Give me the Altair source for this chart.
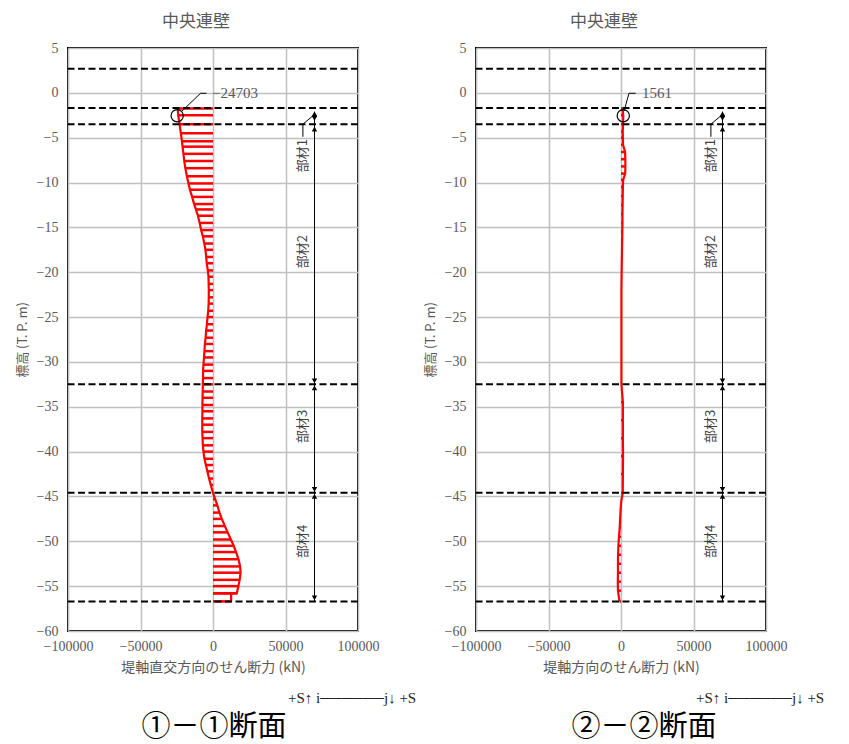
import altair as alt
import pandas as pd

# ---------------- data ----------------
left_elev = [-1.75, -2.5, -3.5, -4.5, -5.4, -6.0, -6.8, -7.6, -8.4, -9.3, -10.1, -10.8, -11.6, -12.4,
             -13.0, -13.7, -14.5, -15.3, -16.0, -16.8, -17.5, -18.3, -19.0, -19.8, -20.5, -21.3, -22.0,
             -22.8, -23.5, -24.3, -25.0, -25.8, -26.5, -27.3, -28.0, -28.8, -29.5, -30.3, -31.0, -31.8,
             -32.5, -33.3, -34.0, -34.8, -35.5, -36.3, -37.0, -37.8, -38.5, -39.3, -40.0, -40.8, -41.5,
             -42.2, -43.0, -43.7, -44.6, -45.3, -46.0, -46.8, -47.5, -48.3, -49.0, -49.8, -50.5, -51.2,
             -52.0, -52.8, -53.5, -54.3, -55.0, -55.8, -55.8, -56.7]
left_shear = [-24300, -24000, -23000, -22200, -21400, -21000, -20400, -19800, -19100, -18000, -16900,
              -15900, -14400, -13000, -11800, -10400, -9200, -8200, -7000, -6000, -5200, -4700, -4300,
              -3600, -3100, -3000, -2900, -2900, -3000, -3300, -3800, -4200, -4700, -5100, -5600, -5900,
              -6200, -6600, -6800, -6900, -7000, -7100, -7200, -7300, -7300, -7400, -7400, -7400, -7200,
              -7000, -6600, -5900, -4900, -3900, -2700, -1600, 0, 1500, 3000, 4500, 6100, 8200, 10100,
              12300, 14300, 15900, 17600, 18700, 19000, 18400, 17500, 16400, 12500, 12500]

right_elev = [-1.75, -2.5, -3.5, -4.3, -5.0, -5.8, -6.6, -7.4, -8.2, -9.0, -9.7, -10.5, -11.5, -12.5,
              -13.5, -14.5, -15.5, -16.5, -17.5, -18.5, -19.5, -20.5, -22.0, -24.0, -26.0, -28.0, -30.0,
              -32.5, -34.5, -36.5, -38.5, -40.5, -42.5, -44.6, -45.5, -46.5, -47.5, -48.5, -49.5, -50.5,
              -51.5, -52.5, -53.5, -54.5, -55.5, -56.7]
right_shear = [1000, 1561, 1400, 1200, 1300, 1400, 2800, 3000, 3000, 2900, 1500, 1300, 1200, 1100, 1000,
               1000, 900, 800, 700, 600, 500, 400, 300, 300, 300, 300, 300, 300, 1300, 1300, 1300, 1400,
               1300, 1200, 200, -300, -600, -900, -1400, -1800, -2000, -2100, -2100, -2200, -2100, -1000]

level_elev = [2.7, -1.7, -3.5, -32.5, -44.6, -56.7]
x_ticks = [-100000, -50000, 0, 50000, 100000]
y_ticks = [5, 0, -5, -10, -15, -20, -25, -30, -35, -40, -45, -50, -55, -60]

member_names = ["部材1", "部材2", "部材3", "部材4"]
member_label_elev = [-7.0, -17.7, -37.2, -50.0]
member_label_x = [62000, 62000, 62000, 62000]

dim_x = [70000, 70000]
dim_elev = [-2.1, -56.7]
arrow_elev = [-2.35, -2.85, -4.05, -32.1, -32.9, -44.2, -45.0, -56.3]
arrow_shape = ["triangle-up", "triangle-down", "triangle-up", "triangle-down",
               "triangle-up", "triangle-down", "triangle-up", "triangle-down"]
m1_leader_x = [62000, 62000, 70000]
m1_leader_elev = [-4.9, -3.5, -2.4]

left_peak = (-24703, -2.55)
right_peak = (1561, -2.55)
left_leader_x = [-21500, -8600, -4500]
right_leader_x = [2100, 5500, 10100]
leader_elev = [-2.05, -0.05, -0.05]
left_label = ("−24703", -700)
right_label = ("1561", 14500)

panel_title = "中央連壁"
left_xtitle = "堤軸直交方向のせん断力 (kN)"
right_xtitle = "堤軸方向のせん断力 (kN)"
ytitle = "標高 (T. P. m)"
sign_text = "+S↑ i──────j↓ +S"
left_section = "①－①断面"
right_section = "②－②断面"

# ---------------- styling ----------------
W, H = 290, 583
GRAY = "#595959"
SERIF = "Liberation Serif, DejaVu Serif, serif"
CJK = "Noto Sans CJK JP"

xs = alt.Scale(domain=[-100000, 100000], nice=False, zero=False)
ys = alt.Scale(domain=[-60, 5], nice=False, zero=False)


def xaxis(title):
    return alt.Axis(values=x_ticks, format="d", grid=True, gridColor="#c0c0c0", gridWidth=1.5,
                    ticks=False, domain=False, labelFont=SERIF, labelFontSize=14, labelColor=GRAY,
                    labelPadding=8, labelFlush=False, labelOverlap=False, title=title, titleFont=CJK,
                    titleFontSize=14, titleColor=GRAY, titleFontWeight="normal", titlePadding=7)


yaxis = alt.Axis(values=y_ticks, format="d", grid=True, gridColor="#c0c0c0", gridWidth=1.5,
                 ticks=False, domain=False, labelFont=SERIF, labelFontSize=14, labelColor=GRAY,
                 labelPadding=10, labelFlush=False, labelOverlap=False, title=ytitle, titleFont=CJK,
                 titleFontSize=13, titleColor=GRAY, titleFontWeight="normal", titlePadding=7)


def panel(elev, shear, peak, leader_x, label, xtitle, section, section_dx):
    n = len(elev)
    df = pd.DataFrame({"elev": elev, "shear": shear, "zero": [0] * n, "idx": list(range(n))})
    X = lambda f: alt.X(f, type="quantitative", scale=xs, axis=xaxis(xtitle))
    Y = lambda f: alt.Y(f, type="quantitative", scale=ys, axis=yaxis)

    bars = alt.Chart(df).mark_rule(color="#ff0000", strokeWidth=2.5).encode(
        x=X("zero"), x2="shear", y=Y("elev"))
    env = alt.Chart(df).mark_line(color="#ff0000", strokeWidth=2.2).encode(
        x=X("shear"), y=Y("elev"), order="idx:Q")

    lv = alt.Chart(pd.DataFrame({"elev": level_elev})).mark_rule(
        color="black", strokeWidth=2, strokeDash=[7, 3.5]).encode(y=Y("elev"))

    dim = alt.Chart(pd.DataFrame({"x": dim_x, "elev": dim_elev})).mark_line(
        color="black", strokeWidth=1).encode(x=X("x"), y=Y("elev"))
    arrows = alt.Chart(pd.DataFrame({"x": [dim_x[0]] * len(arrow_elev), "elev": arrow_elev,
                                     "shape": arrow_shape})).mark_point(
        filled=True, color="black", size=30, opacity=1).encode(
        x=X("x"), y=Y("elev"), shape=alt.Shape("shape:N", scale=None))
    m1 = alt.Chart(pd.DataFrame({"x": m1_leader_x, "elev": m1_leader_elev, "idx": [0, 1, 2]})).mark_line(
        color="black", strokeWidth=1).encode(x=X("x"), y=Y("elev"), order="idx:Q")
    mlabels = alt.Chart(pd.DataFrame({"x": member_label_x, "elev": member_label_elev,
                                      "t": member_names})).mark_text(
        angle=270, font=CJK, fontSize=13, color="#404040", align="center", baseline="middle").encode(
        x=X("x"), y=Y("elev"), text="t:N")

    circ = alt.Chart(pd.DataFrame({"x": [peak[0]], "elev": [peak[1]]})).mark_point(
        shape="circle", size=150, filled=False, color="black", strokeWidth=1.2, opacity=1).encode(
        x=X("x"), y=Y("elev"))
    lead = alt.Chart(pd.DataFrame({"x": leader_x, "elev": leader_elev, "idx": [0, 1, 2]})).mark_line(
        color="black", strokeWidth=1).encode(x=X("x"), y=Y("elev"), order="idx:Q")
    ptxt = alt.Chart(pd.DataFrame({"x": [label[1]], "elev": [leader_elev[1]], "t": [label[0]]})).mark_text(
        font=SERIF, fontSize=15, color=GRAY, align="left", baseline="middle").encode(
        x=X("x"), y=Y("elev"), text="t:N")

    sign = alt.Chart(pd.DataFrame({"t": [sign_text]})).mark_text(
        font=SERIF, fontSize=15, color="#222222", align="left", baseline="middle").encode(
        x=alt.value(220), y=alt.value(650), text="t:N")
    sec = alt.Chart(pd.DataFrame({"t": [section]})).mark_text(
        font=CJK, fontSize=29, color="black", align="center", baseline="middle").encode(
        x=alt.value(146 + section_dx), y=alt.value(679), text="t:N")

    return alt.layer(bars, env, lv, dim, arrows, m1, mlabels, circ, lead, ptxt, sign, sec).properties(
        width=W, height=H,
        title=alt.TitleParams(panel_title, font=CJK, fontSize=17, color=GRAY, fontWeight="normal",
                              frame="group", dx=-17, offset=10))


left = panel(left_elev, left_shear, left_peak, left_leader_x, left_label, left_xtitle, left_section, 0)
right = panel(right_elev, right_shear, right_peak, right_leader_x, right_label, right_xtitle,
              right_section, 22)

chart = alt.hconcat(left, right, spacing=118, bounds="flush").properties(
    padding={"left": 7, "top": 4, "right": 0, "bottom": 0}
).configure_view(stroke="black", strokeWidth=2).configure_axis(titleColor=GRAY, labelColor=GRAY)

chart.save("out.html", embed_options={"renderer": "svg", "actions": False})
